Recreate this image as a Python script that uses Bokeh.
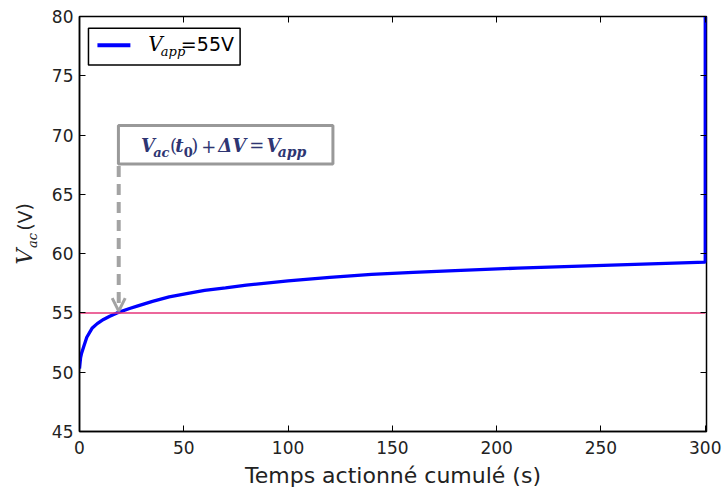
from bokeh.plotting import figure
from bokeh.layouts import row
from bokeh.models import (Range1d, FixedTicker, LinearAxis, Label, BoxAnnotation,
                          Arrow, OpenHead, ColumnDataSource)
from bokeh.embed import file_html
from bokeh.resources import INLINE

# ---- data ----
t_cum = [0, 0.5, 1, 2, 3.5, 6, 8.5, 11.5, 14.5, 18, 24, 28, 35, 43, 52, 60, 70, 80,
         100, 120, 140, 160, 180, 210, 240, 270, 300, 300]
v_ac = [50.3, 51.2, 51.6, 52.15, 52.95, 53.7, 54.1, 54.45, 54.72, 55.0, 55.37, 55.6,
        55.98, 56.35, 56.65, 56.9, 57.12, 57.35, 57.7, 58.0, 58.25, 58.42, 58.57,
        58.78, 58.95, 59.12, 59.28, 85.0]
v_app = 55
t0 = 18.8
x_ticks = [0, 50, 100, 150, 200, 250, 300]
y_ticks = [45, 50, 55, 60, 65, 70, 75, 80]

BLUE = "#0000ff"
PINK = "#e6357a"
NAVY = "#2e3572"
GREY = "#a3a3a3"
H = 490

# ---- narrow left figure that carries the y-axis title (frame aligned with main) ----
lab = figure(width=40, height=H, output_backend="svg", toolbar_location=None,
             x_range=Range1d(0, 40), y_range=Range1d(45, 80),
             min_border_left=0, min_border_right=0, min_border_top=16,
             min_border_bottom=55, x_axis_type=None, y_axis_type=None)
lab.outline_line_color = None
lab.grid.visible = False
lab.background_fill_color = "white"
lab.border_fill_color = "white"
lab.add_layout(Label(x=24, y=59.75, text="V", angle=1.5708, text_align="center",
                     text_baseline="middle", text_font="DejaVu Serif",
                     text_font_style="italic", text_font_size="22px", text_color="#222222"))
lab.add_layout(Label(x=31.5, y=61.1, text="ac", angle=1.5708, text_align="center",
                     text_baseline="middle", text_font="DejaVu Serif",
                     text_font_style="italic", text_font_size="13px", text_color="#222222"))
lab.add_layout(Label(x=24, y=63.1, text="(V)", angle=1.5708, text_align="center",
                     text_baseline="middle", text_font="DejaVu Sans",
                     text_font_size="19px", text_color="#222222"))

# ---- main figure ----
p = figure(width=684, height=H, output_backend="svg", toolbar_location=None,
           x_range=Range1d(0, 300.6), y_range=Range1d(45, 80),
           min_border_left=39, min_border_right=18, min_border_top=16,
           min_border_bottom=55)
p.background_fill_color = "white"
p.border_fill_color = "white"
p.grid.visible = False
p.outline_line_color = "black"
p.outline_line_width = 1.5

for ax in (p.xaxis[0], p.yaxis[0]):
    ax.major_tick_in = 6
    ax.major_tick_out = 0
    ax.minor_tick_line_color = None
    ax.axis_line_width = 1.5
    ax.major_tick_line_width = 1
    ax.major_label_text_font = "DejaVu Sans"
    ax.major_label_text_font_size = "17px"
    ax.major_label_text_color = "#222222"
p.xaxis[0].ticker = FixedTicker(ticks=x_ticks)
p.yaxis[0].ticker = FixedTicker(ticks=y_ticks)
p.xaxis[0].major_label_standoff = 9
p.yaxis[0].major_label_standoff = 6
p.xaxis[0].axis_label = "Temps actionné cumulé (s)"
p.xaxis[0].axis_label_text_font = "DejaVu Sans"
p.xaxis[0].axis_label_text_font_size = "22px"
p.xaxis[0].axis_label_text_font_style = "normal"
p.xaxis[0].axis_label_text_color = "#222222"
p.xaxis[0].axis_label_standoff = 6

for loc, tk in (("above", x_ticks), ("right", y_ticks)):
    ax = LinearAxis(ticker=FixedTicker(ticks=tk))
    ax.major_tick_in = 6
    ax.major_tick_out = 0
    ax.minor_tick_line_color = None
    ax.major_label_overrides = {v: "" for v in tk}
    ax.major_label_standoff = 0
    ax.axis_line_color = None
    p.add_layout(ax, loc)

# ---- data lines ----
src = ColumnDataSource(data=dict(t=t_cum, v=v_ac))
p.line("t", "v", source=src, line_color=BLUE, line_width=3.3)
ref = ColumnDataSource(data=dict(t=[x_ticks[0], x_ticks[-1]], v=[v_app, v_app]))
p.line("t", "v", source=ref, line_color=PINK, line_width=1.6)

# ---- legend (custom) ----
p.add_layout(BoxAnnotation(left=4.3, right=77, top=79.0, bottom=75.9, level="underlay",
                           fill_color="white", fill_alpha=1, line_color="black",
                           line_width=1.5, line_alpha=1))
leg = ColumnDataSource(data=dict(x0=[8.6], x1=[24.4], y=[77.58]))
p.segment(x0="x0", y0="y", x1="x1", y1="y", source=leg, line_color=BLUE, line_width=4)
p.add_layout(Label(x=33.0, y=77.66, text="V", text_align="left", text_baseline="middle",
                   text_font="DejaVu Serif", text_font_style="italic",
                   text_font_size="20px", text_color="black"))
p.add_layout(Label(x=39.0, y=77.05, text="app", text_align="left", text_baseline="middle",
                   text_font="DejaVu Serif", text_font_style="italic",
                   text_font_size="13px", text_color="black"))
p.add_layout(Label(x=48.6, y=77.66, text="=55V", text_align="left", text_baseline="middle",
                   text_font="DejaVu Sans", text_font_size="19px", text_color="black"))

# ---- annotation box with equation ----
p.add_layout(BoxAnnotation(left=18.66, right=121.5, top=70.81, bottom=67.55,
                           fill_color="white", fill_alpha=1, line_color="#999999",
                           line_width=3, line_alpha=1))
pieces = [
    ("V", 29.5, 69.1, "18px", "bold italic", "left"),
    ("ac", 35.3, 68.55, "13px", "bold italic", "left"),
    ("(", 43.4, 69.1, "18px", "normal", "left"),
    ("t", 45.9, 69.1, "18px", "bold italic", "left"),
    ("0", 50.0, 68.55, "13px", "bold", "left"),
    (")", 53.6, 69.1, "18px", "normal", "left"),
    ("+", 62.0, 69.1, "18px", "normal", "center"),
    ("ΔV", 66.5, 69.1, "18px", "bold italic", "left"),
    ("=", 85.0, 69.1, "18px", "normal", "center"),
    ("V", 89.6, 69.1, "18px", "bold italic", "left"),
    ("app", 95.0, 68.55, "14px", "bold italic", "left"),
]
for txt, xx, yy, fs, st, al in pieces:
    p.add_layout(Label(x=xx, y=yy, text=txt, text_align=al, text_baseline="middle",
                       text_font="DejaVu Serif", text_font_style=st,
                       text_font_size=fs, text_color=NAVY))

p.add_layout(Arrow(x_start=t0, y_start=67.4, x_end=t0, y_end=55.15,
                   line_color=GREY, line_width=4, line_dash="11 7",
                   end=OpenHead(size=13, line_color=GREY, line_width=3)))

layout = row(lab, p, spacing=0)
open("out.html", "w").write(file_html(layout, INLINE))
